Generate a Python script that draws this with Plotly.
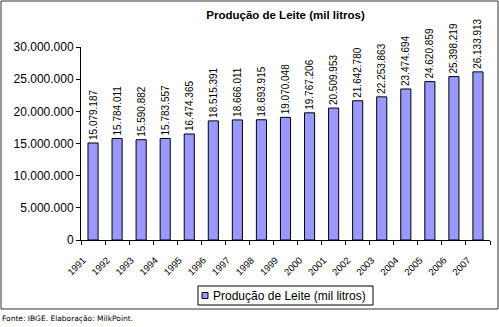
import plotly.graph_objects as go

years = ["1991", "1992", "1993", "1994", "1995", "1996", "1997", "1998", "1999",
         "2000", "2001", "2002", "2003", "2004", "2005", "2006", "2007"]
production = [15079187, 15784011, 15590882, 15783557, 16474365, 18515391, 18666011,
              18693915, 19070048, 19767206, 20509953, 21642780, 22253863, 23474694,
              24620859, 25398219, 26133913]
labels = ["15.079.187", "15.784.011", "15.590.882", "15.783.557", "16.474.365",
          "18.515.391", "18.666.011", "18.693.915", "19.070.048", "19.767.206",
          "20.509.953", "21.642.780", "22.253.863", "23.474.694", "24.620.859",
          "25.398.219", "26.133.913"]
series_name = "Produção de Leite (mil litros)"
title_text = "Produção de Leite (mil litros)"
source_text = "Fonte: IBGE. Elaboração: MilkPoint."
y_ticks = [0, 5000000, 10000000, 15000000, 20000000, 25000000, 30000000]

BAR_COLOR = "#9999FF"

W, H = 499, 327
L, R, T, B = 81, 9, 47, 87
pw, ph = W - L - R, H - T - B

def px(x):
    return (x - L) / pw

def py(y):
    return (H - B - y) / ph

fig = go.Figure()
fig.add_trace(go.Bar(
    x=years, y=production, name=series_name,
    marker=dict(color=BAR_COLOR, line=dict(color="#000000", width=1)),
    text=labels, textposition="outside", textangle=-90, constraintext="none",
    textfont=dict(family="Liberation Sans", size=10, color="#000000"),
    cliponaxis=False, showlegend=False,
))

fig.update_layout(
    width=W, height=H,
    margin=dict(l=L, r=R, t=T, b=B),
    paper_bgcolor="white", plot_bgcolor="white",
    font=dict(family="Liberation Sans", color="#000000"),
    separators=",.",
    bargap=0.58,
    showlegend=False,
    title=dict(text="<b>" + title_text + "</b>", x=0.5, xref="paper", xanchor="center",
               y=1 - 15 / H, yanchor="middle",
               font=dict(family="Liberation Sans", size=11.5, color="#000000")),
    xaxis=dict(type="category", showline=True, linecolor="#000000", linewidth=1,
               ticks="outside", ticklen=4, tickcolor="#000000", tickson="boundaries",
               tickangle=-45, tickfont=dict(family="Liberation Sans", size=9.5),
               ticklabelshift=-10, ticklabelstandoff=10,
               showgrid=False, zeroline=False),
    yaxis=dict(range=[0, 30000000], tickvals=y_ticks, tickformat=",d",
               showline=True, linecolor="#000000", linewidth=1,
               ticks="outside", ticklen=4, tickcolor="#000000",
               tickfont=dict(family="Liberation Sans", size=12),
               showgrid=False, zeroline=False),
)

# outer chart border
fig.add_shape(type="rect", xref="paper", yref="paper",
              x0=px(1), x1=px(498), y0=py(309), y1=py(1),
              line=dict(color="#333333", width=1), fillcolor="rgba(0,0,0,0)", layer="below")

# legend box (Excel style)
fig.add_shape(type="rect", xref="paper", yref="paper",
              x0=px(198), x1=px(373), y0=py(305), y1=py(286),
              line=dict(color="#000000", width=1), fillcolor="white")
fig.add_shape(type="rect", xref="paper", yref="paper",
              x0=px(202), x1=px(208), y0=py(298.5), y1=py(292.5),
              line=dict(color="#000000", width=1), fillcolor=BAR_COLOR)
fig.add_annotation(text=series_name, xref="paper", yref="paper",
                   x=px(211), y=py(295.5), xanchor="left", yanchor="middle",
                   showarrow=False, font=dict(family="Liberation Sans", size=12, color="#000000"))

fig.add_annotation(text=source_text, xref="paper", yref="paper",
                   x=px(0), y=py(318), xanchor="left", yanchor="middle",
                   showarrow=False, font=dict(family="DejaVu Sans", size=7.5, color="#000000"))

fig.write_html("out.html")
